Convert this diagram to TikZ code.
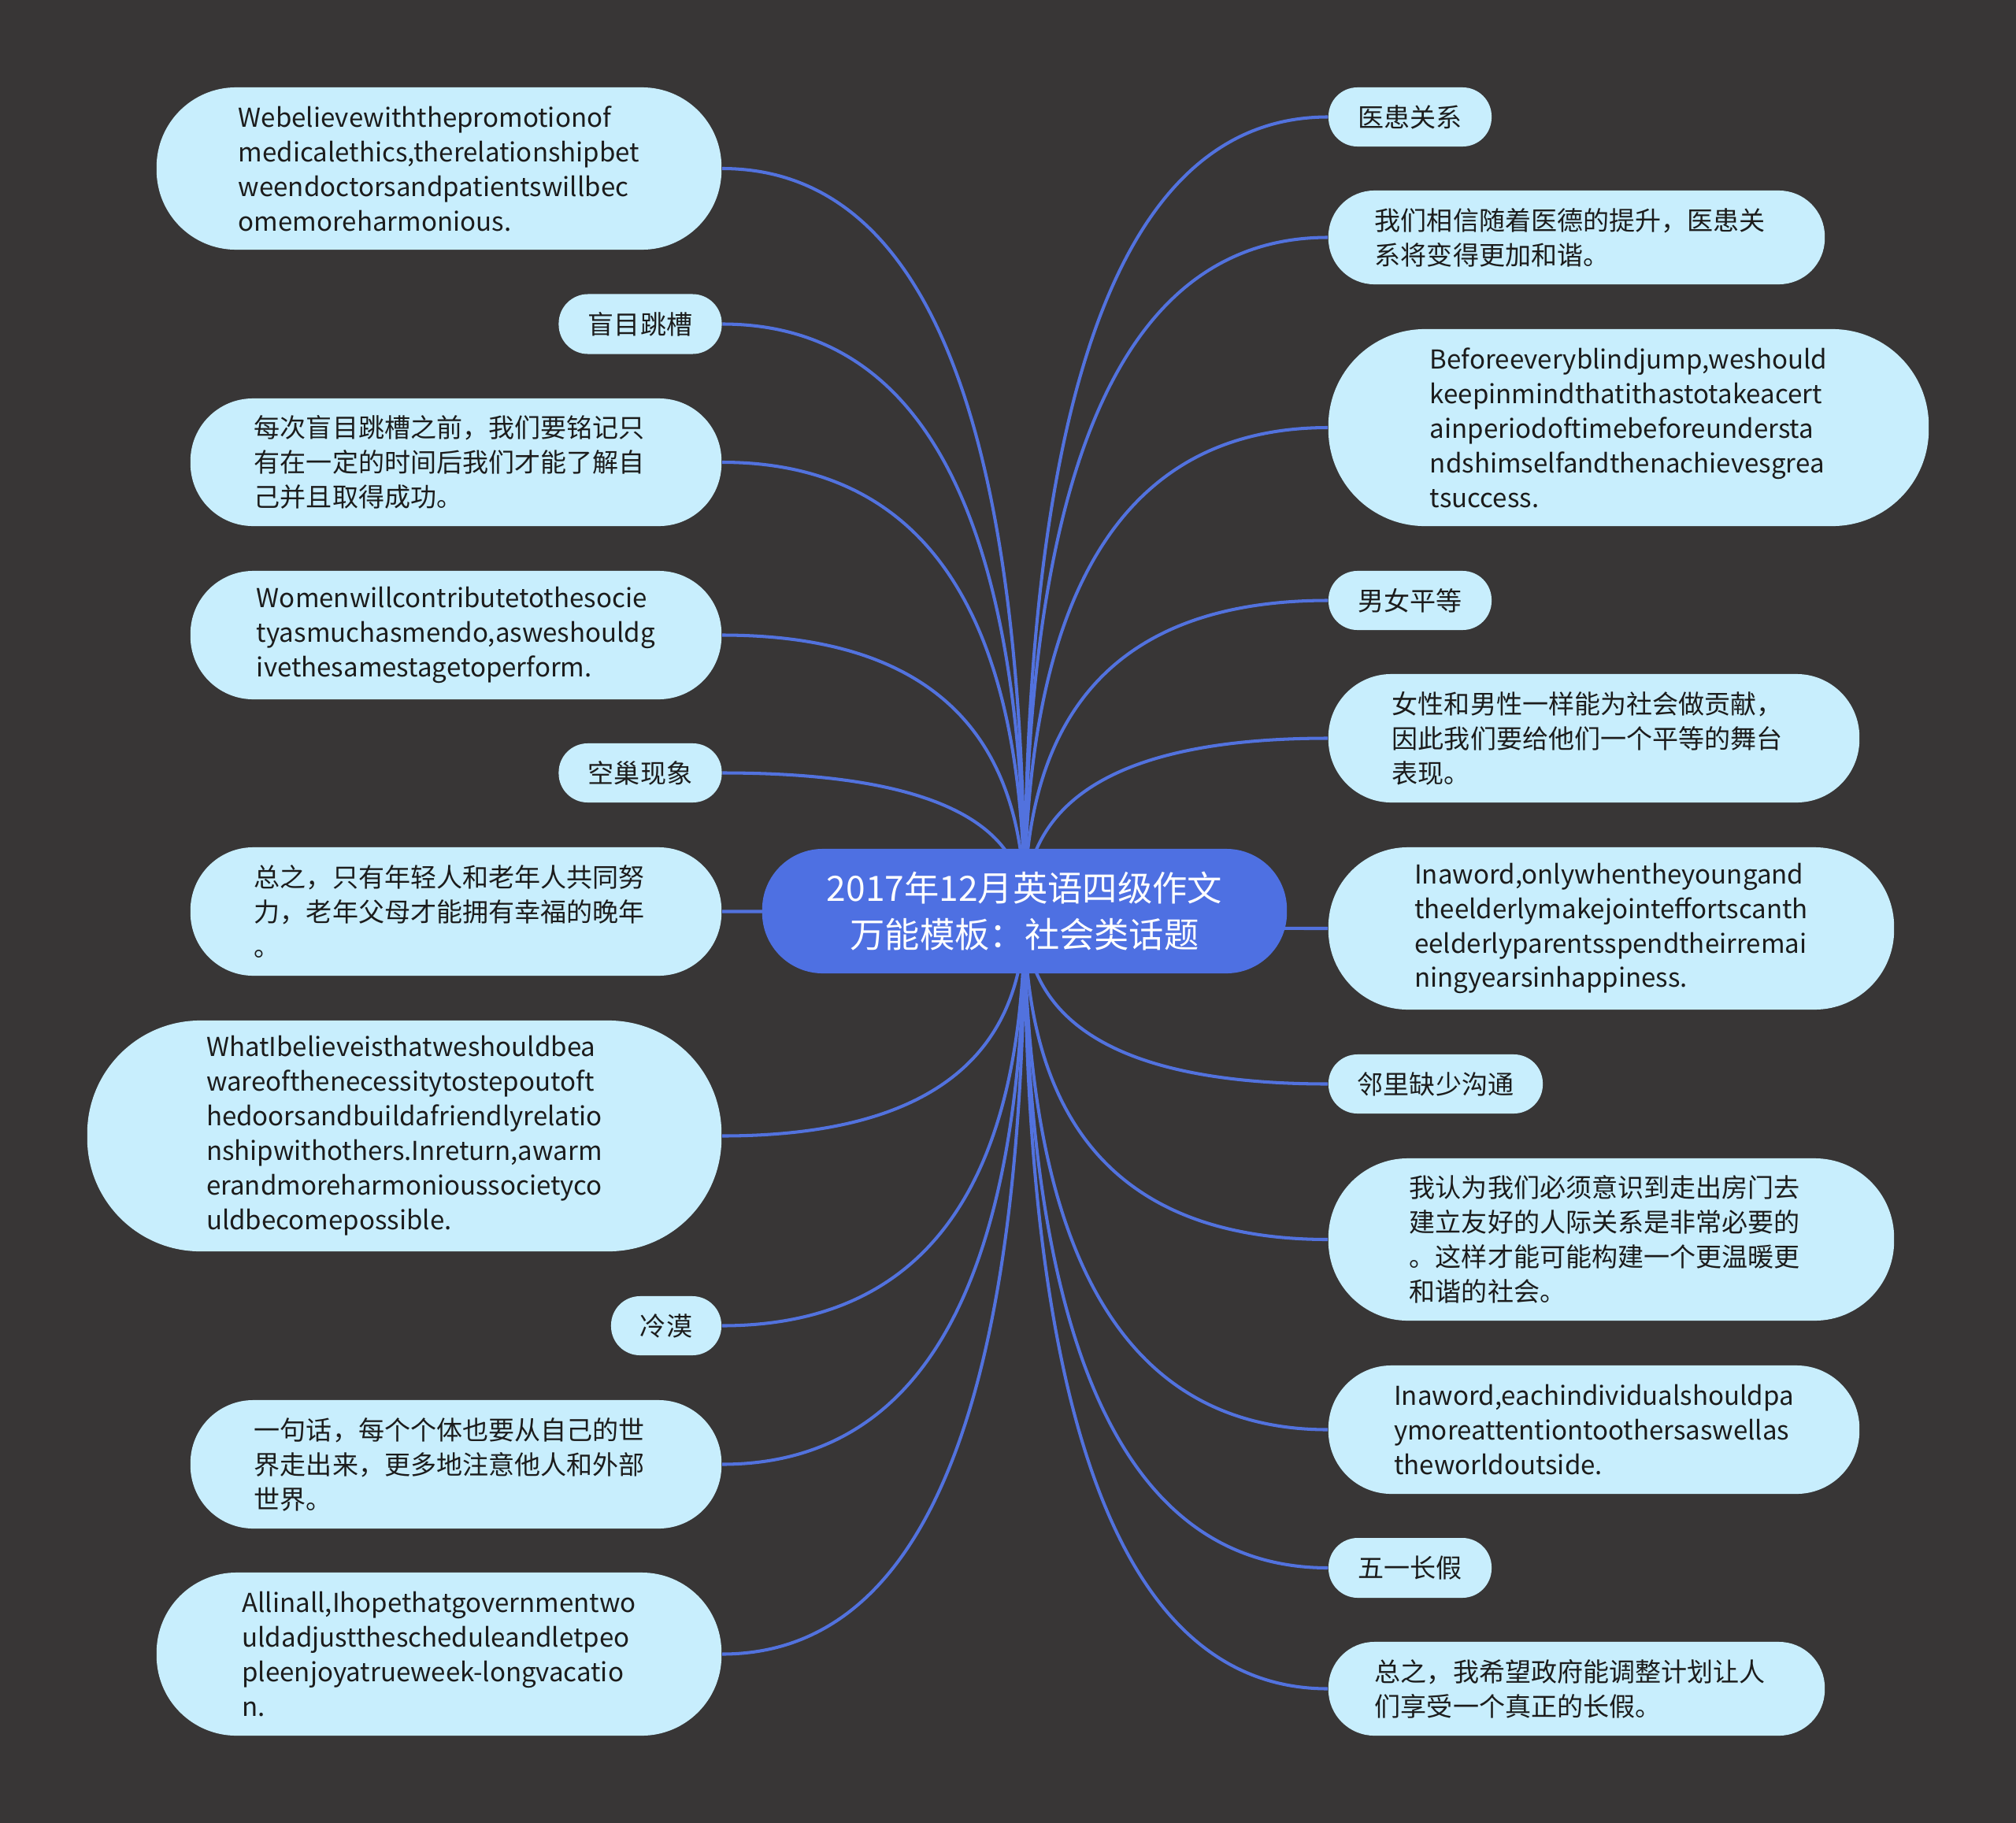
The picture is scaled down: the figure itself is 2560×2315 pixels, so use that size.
\documentclass[tikz,border=0pt]{standalone}
\usepackage{fontspec}
\setmainfont{Noto Sans CJK SC}
\usepackage{tikz}
\usetikzlibrary{calc}
\definecolor{canvasgray}{RGB}{56,54,54}
\definecolor{hubblue}{RGB}{78,112,226}
\definecolor{wireblue}{RGB}{82,114,222}
\definecolor{notefill}{RGB}{200,238,253}
\definecolor{notetext}{RGB}{28,28,28}
\pgfdeclarelayer{canvas}
\pgfdeclarelayer{wires}
\pgfsetlayers{canvas,wires,main}
\tikzset{
    hub/.style={fill=hubblue, text=white, align=center, inner sep=0pt,
        minimum width=6.66cm, minimum height=1.58cm, rounded corners=0.77cm,
        font=\fontsize{12.6}{17}\selectfont},
    note/.style 2 args={fill=notefill, text=notetext, align=left, inner sep=0pt,
        minimum width=#1cm, minimum height=#2cm, rounded corners=0.49*#2cm,
        font=\fontsize{9.4}{12.5}\selectfont},
    cjknote/.style={text width=5.12cm},
    link/.style={draw=wireblue, line width=1.15pt,
        to path={.. controls ($(\tikztostart)!0.667!(\tikztostart |- \tikztotarget)$)
            and ($(\tikztotarget)!0.667!(\tikztostart |- \tikztotarget)$) .. (\tikztotarget)}}
}
\begin{document}
\begin{tikzpicture}[x=0.01cm, y=-0.01cm]
    \useasboundingbox (0,0) rectangle (2560,2315);
    \begin{pgfonlayer}{canvas}
        \fill[canvasgray] (0,0) rectangle (2560,2315);
    \end{pgfonlayer}

    % central topic
    \node[hub] (hub) at (1301,1157) {2017年12月英语四级作文\\万能模板：社会类话题};

    % left branches
    \node[note={7.17}{2.06}] (l1) at (557.5,214) {Webelievewiththepromotionof\\medicalethics,therelationshipbet\\weendoctorsandpatientswillbec\\omemoreharmonious.};
    \node[note={2.07}{0.76}] (l2) at (813,411.5) {盲目跳槽};
    \node[note={6.74}{1.62}, cjknote] (l3) at (579,587) {每次盲目跳槽之前，我们要铭记只\\有在一定的时间后我们才能了解自\\己并且取得成功。};
    \node[note={6.74}{1.63}] (l4) at (579,806.5) {Womenwillcontributetothesocie\\tyasmuchasmendo,asweshouldg\\ivethesamestagetoperform.};
    \node[note={2.07}{0.75}] (l5) at (813,981.5) {空巢现象};
    \node[note={6.74}{1.63}, cjknote] (l6) at (579,1157.5) {总之，只有年轻人和老年人共同努\\力，老年父母才能拥有幸福的晚年\\。};
    \node[note={8.05}{2.93}] (l7) at (513.5,1442.5) {WhatIbelieveisthatweshouldbea\\wareofthenecessitytostepoutoft\\hedoorsandbuildafriendlyrelatio\\nshipwithothers.Inreturn,awarm\\erandmoreharmonioussocietyco\\uldbecomepossible.};
    \node[note={1.40}{0.75}] (l8) at (846,1683.5) {冷漠};
    \node[note={6.74}{1.63}, cjknote] (l9) at (579,1859.5) {一句话，每个个体也要从自己的世\\界走出来，更多地注意他人和外部\\世界。};
    \node[note={7.17}{2.07}] (l10) at (557.5,2100.5) {Allinall,Ihopethatgovernmentwo\\uldadjustthescheduleandletpeo\\pleenjoyatrueweek-longvacatio\\n.};

    % right branches
    \node[note={2.07}{0.75}] (r1) at (1790.5,148.5) {医患关系};
    \node[note={6.30}{1.19}, cjknote] (r2) at (2002,301.5) {我们相信随着医德的提升，医患关\\系将变得更加和谐。};
    \node[note={7.62}{2.50}] (r3) at (2068,543) {Beforeeveryblindjump,weshould\\keepinmindthatithastotakeacert\\ainperiodoftimebeforeundersta\\ndshimselfandthenachievesgrea\\tsuccess.};
    \node[note={2.07}{0.75}] (r4) at (1790.5,762.5) {男女平等};
    \node[note={6.74}{1.63}, cjknote] (r5) at (2024,937.5) {女性和男性一样能为社会做贡献，\\因此我们要给他们一个平等的舞台\\表现。};
    \node[note={7.18}{2.06}] (r6) at (2046,1179) {Inaword,onlywhentheyoungand\\theelderlymakejointeffortscanth\\eelderlyparentsspendtheirremai\\ningyearsinhappiness.};
    \node[note={2.72}{0.75}] (r7) at (1823,1376.5) {邻里缺少沟通};
    \node[note={7.18}{2.06}, cjknote] (r8) at (2046,1574) {我认为我们必须意识到走出房门去\\建立友好的人际关系是非常必要的\\。这样才能可能构建一个更温暖更\\和谐的社会。};
    \node[note={6.74}{1.63}] (r9) at (2024,1815.5) {Inaword,eachindividualshouldpa\\ymoreattentiontoothersaswellas\\theworldoutside.};
    \node[note={2.07}{0.76}] (r10) at (1790.5,1991) {五一长假};
    \node[note={6.30}{1.19}, cjknote] (r11) at (2002,2144.5) {总之，我希望政府能调整计划让人\\们享受一个真正的长假。};

    % connectors, behind the nodes
    \begin{pgfonlayer}{wires}
        \foreach \leaf in {l1,l2,l3,l4,l5,l6,l7,l8,l9,l10}
            \draw[link] (hub.center) to (\leaf.east);
        \foreach \leaf in {r1,r2,r3,r4,r5,r6,r7,r8,r9,r10,r11}
            \draw[link] (hub.center) to (\leaf.west);
    \end{pgfonlayer}
\end{tikzpicture}
\end{document}
